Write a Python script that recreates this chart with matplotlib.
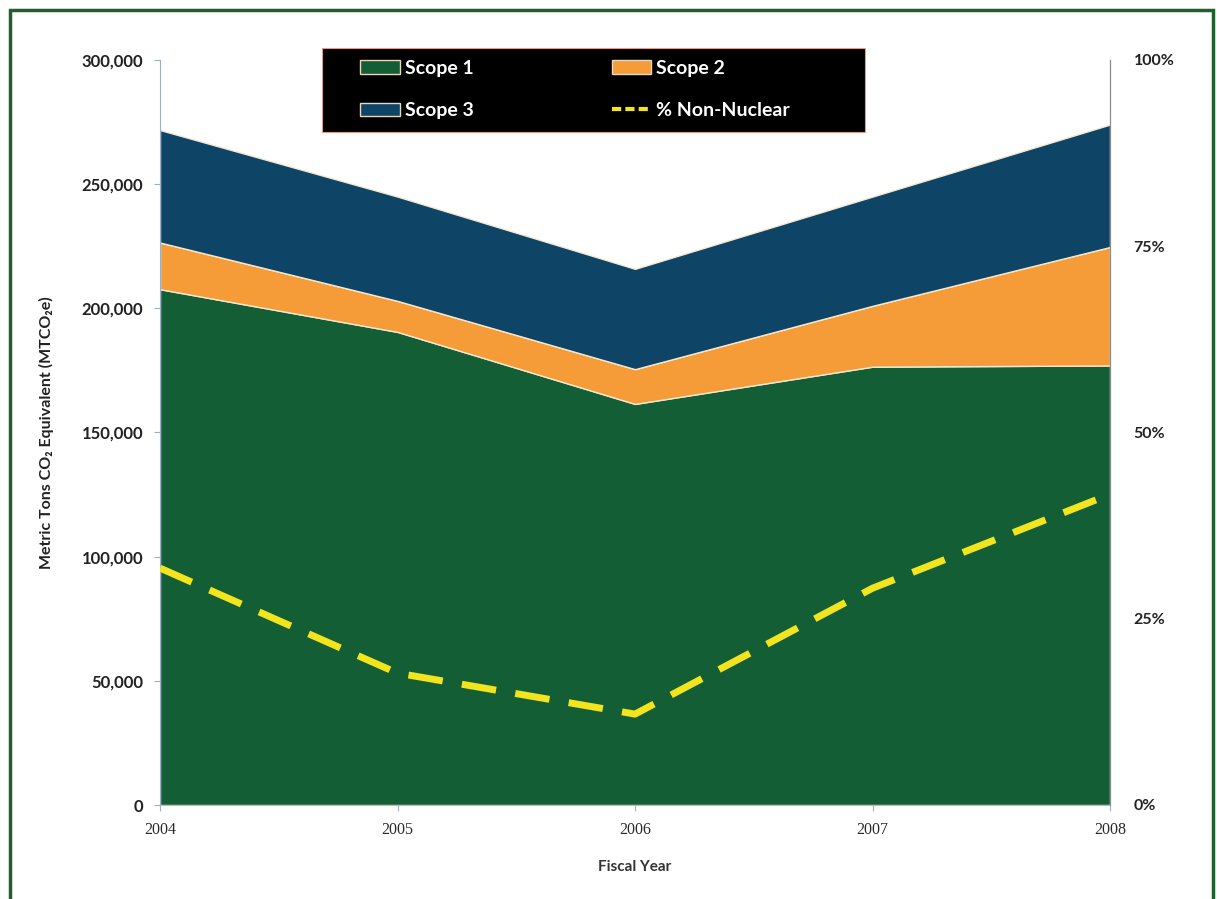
import matplotlib
matplotlib.use("Agg")
import matplotlib.pyplot as plt
import matplotlib.ticker as ticker
from matplotlib.patches import Rectangle, Patch
from matplotlib.lines import Line2D

plt.rcParams["font.family"] = ["Lato", "DejaVu Sans"]

# values
years = [2004, 2005, 2006, 2007, 2008]
scope1 = [207700, 190500, 161500, 176500, 177000]
scope2 = [18800, 12500, 14000, 24500, 47700]
scope3 = [45300, 42000, 40400, 44000, 49300]
non_nuclear_pct = [31.8, 17.7, 12.2, 29.1, 41.7]

left_ticks = [0, 50000, 100000, 150000, 200000, 250000, 300000]
right_ticks = [0, 25, 50, 75, 100]

GREEN = "#145E35"
ORANGE = "#F59B38"
BLUE = "#0E4465"
YELLOW = "#F2E51E"

W, H = 1217, 899


def main():
    fig = plt.figure(figsize=(W / 100, H / 100), dpi=100)
    # green page frame
    fig.patches.append(Rectangle((10 / W, -0.02), 1203 / W, 1 - 10 / H + 0.02,
                                 transform=fig.transFigure, fill=False,
                                 edgecolor="#1F5F2C", linewidth=2.5))

    ax = fig.add_axes([160 / W, 1 - 805 / H, 950 / W, 745 / H])
    ax.stackplot(years, scope1, scope2, scope3, colors=[GREEN, ORANGE, BLUE],
                 edgecolor="#F6E9D2", linewidth=1.0)
    ax.set_xlim(years[0], years[-1])
    ax.set_ylim(0, 300000)
    ax.set_xticks(years)
    ax.set_xticklabels([str(y) for y in years], family="Liberation Serif",
                       fontsize=11.5, color="#2A2A2A")
    ax.set_yticks(left_ticks)
    ax.yaxis.set_major_formatter(ticker.FuncFormatter(lambda v, p: "{:,.0f}".format(v)))
    for lbl in ax.get_yticklabels():
        lbl.set_fontweight("bold")
        lbl.set_fontsize(12)
        lbl.set_color("#222222")
    ax.tick_params(axis="y", length=4, color="#9BB0C4", pad=8)
    ax.tick_params(axis="x", length=4, color="#9BB0C4", pad=8)
    ax.spines["top"].set_visible(False)
    ax.spines["left"].set_color("#9BB0C4")
    ax.spines["bottom"].set_color("#C8B89A")
    ax.spines["right"].set_color("#8A8A8A")
    ax.set_xlabel("Fiscal Year", fontsize=11, fontweight="bold", color="#333333", labelpad=16)
    ax.set_ylabel("Metric Tons CO₂ Equivalent (MTCO₂e)", fontsize=11.5,
                  fontweight="bold", color="#222222", labelpad=20)

    ax2 = ax.twinx()
    ax2.plot(years, non_nuclear_pct, color=YELLOW, linewidth=5, linestyle=(0, (5, 2.8)),
             solid_capstyle="butt")
    ax2.set_ylim(0, 100)
    ax2.set_yticks(right_ticks)
    ax2.yaxis.set_major_formatter(ticker.FuncFormatter(lambda v, p: "{:.0f}%".format(v)))
    for lbl in ax2.get_yticklabels():
        lbl.set_fontweight("bold")
        lbl.set_fontsize(11.5)
        lbl.set_color("#222222")
    ax2.tick_params(axis="y", length=0, pad=17)
    for s in ["top", "left", "bottom"]:
        ax2.spines[s].set_visible(False)
    ax2.spines["right"].set_color("#8A8A8A")

    # black legend box
    fig.patches.append(Rectangle((322 / W, 1 - 132 / H), 543 / W, 84 / H,
                                 transform=fig.transFigure, facecolor="black",
                                 edgecolor="#D9A090", linewidth=0.8, zorder=5))

    handles = [
        Patch(facecolor=GREEN, edgecolor="#E8D8C0", label="Scope 1"),
        Patch(facecolor=BLUE, edgecolor="#E8D8C0", label="Scope 3"),
        Patch(facecolor=ORANGE, edgecolor="#E8D8C0", label="Scope 2"),
        Line2D([0], [0], color=YELLOW, linewidth=3, linestyle=(0, (2.2, 1.0)),
               label="% Non-Nuclear"),
    ]
    leg = fig.legend(handles=handles, ncol=2, loc="upper left",
                     bbox_to_anchor=(360 / W, 1 - 60 / H),
                     bbox_transform=fig.transFigure, frameon=False,
                     fontsize=14, handlelength=2.05, handleheight=0.7,
                     handletextpad=0.25, columnspacing=7.1, borderpad=0,
                     labelspacing=1.3, borderaxespad=0)
    leg.set_zorder(6)
    for t in leg.get_texts():
        t.set_color("white")
        t.set_fontweight("bold")

    plt.savefig("out.png", dpi=100)


if __name__ == "__main__":
    main()
